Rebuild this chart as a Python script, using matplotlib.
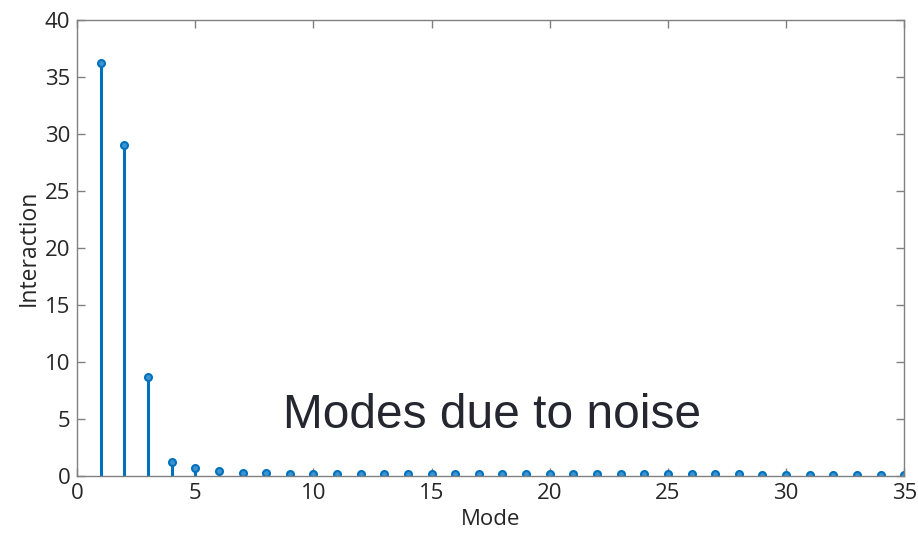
import numpy as np
from matplotlib import pyplot as plt

############# Data ############
modes = np.arange(1, 36)
interaction = [36.2, 29.0, 8.7, 1.2, 0.7, 0.45, 0.25, 0.25, 0.15, 0.15,
               0.15, 0.15, 0.15, 0.15, 0.15, 0.15, 0.15, 0.15, 0.15, 0.15,
               0.15, 0.15, 0.15, 0.15, 0.15, 0.15, 0.15, 0.15, 0.1, 0.1,
               0.1, 0.1, 0.1, 0.1, 0.1]
xticks = [0, 5, 10, 15, 20, 25, 30, 35]
yticks = [0, 5, 10, 15, 20, 25, 30, 35, 40]
###############################

BLUE = '#0072BD'
AXC = '#808080'
TXT = '#262626'

plt.rcParams['font.family'] = ['Open Sans', 'DejaVu Sans']

fig = plt.figure(figsize=(9.18, 5.34), dpi=100)
ax = fig.add_axes([0.084, 0.1086, 0.901, 0.8539])

markerline, stemlines, baseline = ax.stem(modes, interaction, basefmt=' ')
plt.setp(stemlines, color=BLUE, linewidth=2.2)
plt.setp(markerline, color=BLUE, markersize=5, markerfacecolor='#3d93d0',
         markeredgewidth=1.5)

ax.set_xlim(0, 35)
ax.set_ylim(0, 40)
ax.set_xticks(xticks)
ax.set_yticks(yticks)
ax.tick_params(direction='in', top=True, right=True, length=6, width=1,
               color=AXC, labelsize=16, labelcolor=TXT, pad=5)
for s in ax.spines.values():
    s.set_color(AXC)
    s.set_linewidth(1)

ax.set_xlabel('Mode', fontsize=16, color=TXT, labelpad=3.5)
ax.set_ylabel('Interaction', fontsize=16.5, color=TXT, labelpad=3)

ax.text(0.502, 5.35, 'Modes due to noise', transform=ax.get_yaxis_transform(),
        ha='center', va='center', fontsize=34.5, color='#262630',
        family=['Liberation Sans', 'DejaVu Sans'])

fig.savefig('out.png', dpi=100)
